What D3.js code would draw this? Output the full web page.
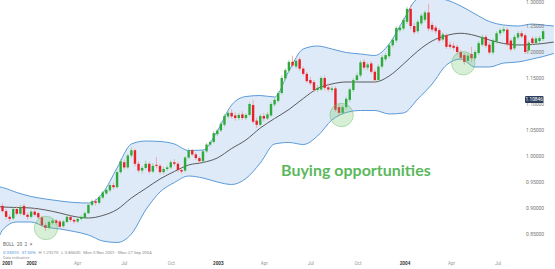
<!DOCTYPE html>
<html><head><meta charset="utf-8">
<script src="https://cdn.jsdelivr.net/npm/d3@7"></script>
<style>body{margin:0;background:#fff}svg{display:block}</style>
</head><body>
<svg id="c" width="555" height="269"></svg>
<script>
// ---- data ----
const startWeek = "2001-11-05", endWeek = "2004-09-27";
const open = [0.904,0.894,0.883,0.880,0.898,0.889,0.904,0.887,0.883,0.893,
0.890,0.882,0.867,0.862,0.871,0.876,0.874,0.865,0.873,0.883,
0.877,0.874,0.879,0.881,0.890,0.906,0.913,0.910,0.920,0.928,
0.934,0.944,0.940,0.969,0.988,0.978,1.001,1.011,0.985,0.972,
0.977,0.985,0.970,0.983,0.981,0.969,0.975,0.978,0.988,0.985,
0.973,0.972,0.997,1.011,1.003,0.996,0.990,1.009,1.022,1.027,
1.042,1.049,1.060,1.076,1.083,1.078,1.073,1.080,1.073,1.079,
1.098,1.068,1.060,1.077,1.072,1.078,1.099,1.106,1.121,1.149,
1.164,1.181,1.172,1.186,1.168,1.158,1.146,1.142,1.127,1.128,
1.150,1.132,1.127,1.130,1.094,1.083,1.094,1.108,1.127,1.146,
1.155,1.181,1.170,1.178,1.162,1.146,1.172,1.186,1.192,1.213,
1.222,1.242,1.245,1.258,1.283,1.250,1.240,1.255,1.262,1.276,
1.252,1.247,1.242,1.224,1.232,1.214,1.212,1.210,1.200,1.194,
1.183,1.196,1.188,1.198,1.214,1.229,1.214,1.199,1.220,1.236,
1.240,1.243,1.222,1.207,1.228,1.236,1.232,1.203,1.226,1.217,
1.221,1.225];
const high = [0.909,0.898,0.887,0.901,0.903,0.906,0.908,0.891,0.897,0.900,
0.893,0.885,0.871,0.876,0.880,0.879,0.877,0.877,0.887,0.886,
0.880,0.882,0.886,0.893,0.908,0.916,0.918,0.924,0.933,0.938,
0.947,0.949,0.972,0.994,0.993,1.004,1.017,1.014,0.990,0.981,
0.991,0.989,0.986,0.998,0.985,0.979,0.982,0.992,0.994,0.989,
0.978,1.000,1.015,1.014,1.007,0.999,1.012,1.025,1.030,1.048,
1.052,1.066,1.081,1.088,1.090,1.084,1.083,1.086,1.082,1.104,
1.108,1.074,1.081,1.083,1.085,1.104,1.113,1.125,1.155,1.169,
1.185,1.193,1.187,1.190,1.172,1.162,1.152,1.146,1.136,1.154,
1.155,1.140,1.134,1.134,1.099,1.098,1.114,1.131,1.150,1.160,
1.184,1.186,1.180,1.182,1.166,1.176,1.194,1.198,1.217,1.228,
1.250,1.252,1.266,1.287,1.290,1.256,1.262,1.274,1.280,1.293,
1.258,1.251,1.246,1.238,1.236,1.220,1.218,1.214,1.204,1.198,
1.197,1.210,1.204,1.221,1.233,1.233,1.219,1.226,1.240,1.246,
1.249,1.247,1.226,1.233,1.240,1.241,1.236,1.222,1.230,1.230,
1.231,1.244];
const low = [0.891,0.878,0.874,0.877,0.886,0.886,0.884,0.878,0.880,0.884,
0.879,0.864,0.856,0.859,0.868,0.867,0.861,0.862,0.871,0.873,
0.870,0.871,0.876,0.879,0.888,0.903,0.905,0.907,0.917,0.925,
0.931,0.936,0.938,0.966,0.974,0.975,0.996,0.980,0.968,0.966,
0.974,0.966,0.967,0.976,0.965,0.965,0.971,0.975,0.981,0.969,
0.966,0.969,0.994,1.000,0.992,0.986,0.987,1.006,1.018,1.024,
1.038,1.046,1.056,1.072,1.072,1.068,1.069,1.069,1.069,1.076,
1.062,1.054,1.057,1.066,1.069,1.075,1.095,1.102,1.118,1.145,
1.160,1.170,1.168,1.164,1.154,1.140,1.136,1.122,1.123,1.125,
1.126,1.124,1.122,1.085,1.076,1.079,1.090,1.104,1.123,1.141,
1.151,1.166,1.165,1.158,1.140,1.142,1.168,1.182,1.188,1.209,
1.218,1.238,1.241,1.254,1.244,1.234,1.236,1.251,1.258,1.240,
1.238,1.235,1.218,1.220,1.206,1.206,1.203,1.195,1.184,1.176,
1.179,1.180,1.184,1.194,1.210,1.208,1.195,1.195,1.216,1.232,
1.236,1.211,1.201,1.203,1.224,1.226,1.196,1.199,1.213,1.213,
1.217,1.221];
const close = [0.894,0.883,0.879,0.898,0.889,0.902,0.887,0.883,0.893,0.887,
0.882,0.867,0.862,0.873,0.876,0.871,0.864,0.874,0.883,0.877,
0.874,0.879,0.883,0.890,0.906,0.913,0.910,0.921,0.930,0.935,
0.944,0.940,0.969,0.990,0.978,1.001,1.011,0.985,0.972,0.977,
0.985,0.970,0.981,0.981,0.969,0.975,0.978,0.988,0.985,0.973,
0.970,0.997,1.011,1.003,0.996,0.990,1.009,1.022,1.027,1.044,
1.049,1.062,1.077,1.083,1.076,1.073,1.079,1.073,1.079,1.100,
1.066,1.060,1.077,1.072,1.080,1.100,1.108,1.121,1.150,1.165,
1.181,1.174,1.183,1.168,1.158,1.144,1.140,1.127,1.131,1.150,
1.131,1.128,1.130,1.089,1.083,1.094,1.110,1.128,1.146,1.155,
1.180,1.170,1.176,1.162,1.146,1.172,1.190,1.194,1.213,1.224,
1.246,1.247,1.262,1.283,1.250,1.238,1.258,1.270,1.276,1.245,
1.243,1.240,1.222,1.234,1.210,1.210,1.208,1.200,1.189,1.181,
1.193,1.188,1.200,1.217,1.229,1.212,1.199,1.222,1.236,1.242,
1.244,1.215,1.205,1.229,1.236,1.230,1.200,1.218,1.217,1.226,
1.227,1.240];

// Bollinger band (20, 2)
const bandDates = ["2001-10-31","2001-11-05","2001-12-03","2001-12-31","2002-01-28","2002-02-25","2002-03-25","2002-04-22","2002-05-20","2002-06-17","2002-07-15","2002-08-12","2002-09-09","2002-10-07","2002-11-04","2002-12-02","2002-12-30","2003-01-27","2003-02-24","2003-03-24","2003-04-21","2003-05-19","2003-06-16","2003-07-14","2003-08-11","2003-09-08","2003-10-06","2003-11-03","2003-12-01","2003-12-29","2004-01-26","2004-02-23","2004-03-22","2004-04-19","2004-05-17","2004-06-14","2004-07-12","2004-08-09","2004-09-06","2004-09-27","2004-10-18"];
const upperBand = [0.9404,0.9394,0.9298,0.9221,0.9173,0.9135,0.9106,0.9096,0.9288,0.9769,1.0231,1.0288,1.0279,1.0231,1.0106,1.0115,1.0481,1.0981,1.1144,1.1163,1.1135,1.1635,1.2058,1.2115,1.2058,1.1990,1.1962,1.1933,1.2154,1.2615,1.3019,1.3038,1.3000,1.2885,1.2731,1.2587,1.2519,1.2500,1.2538,1.2519,1.2500];
const middleBand = [0.9025,0.9019,0.9010,0.9000,0.8962,0.8904,0.8837,0.8808,0.8856,0.8971,0.9192,0.9375,0.9558,0.9702,0.9827,0.9875,0.9962,1.0144,1.0308,1.0538,1.0721,1.0894,1.1106,1.1298,1.1385,1.1423,1.1423,1.1423,1.1538,1.1769,1.2019,1.2212,1.2317,1.2360,1.2317,1.2231,1.2163,1.2135,1.2144,1.2163,1.2192];
const lowerBand = [0.8481,0.8577,0.8731,0.8731,0.8635,0.8596,0.8548,0.8481,0.8365,0.8337,0.8500,0.8962,0.9308,0.9490,0.9615,0.9577,0.9500,0.9452,0.9567,0.9865,1.0231,1.0260,1.0221,1.0385,1.0692,1.0837,1.0875,1.0875,1.0808,1.0827,1.1096,1.1385,1.1750,1.1865,1.1712,1.1712,1.1788,1.1808,1.1865,1.1913,1.1971];

const yTicks = [0.85,0.90,0.95,1.00,1.05,1.10,1.15,1.20,1.25,1.30];
const xTickDates = ["2001-11-15","2002-01-01","2002-04-01","2002-07-01","2002-10-01","2003-01-01","2003-04-01","2003-07-01","2003-10-01","2004-01-01","2004-04-01","2004-07-01"];
const xTickLabels = ["2001","2002","Apr","Jul","Oct","2003","Apr","Jul","Oct","2004","Apr","Jul"];
const lastPrice = 1.10846;
const circleDates = ["2002-01-29","2003-08-30","2004-04-24"];
const circleValues = [0.8615,1.0788,1.1783];
const annotation = "Buying opportunities";
const legendTitle = "BOLL  20  2";
const legendStats = [["0.33010","#4a90d9"],["37.50%","#4a90d9"],["H 1.29270","#8a8a8a"],["L 0.85600","#8a8a8a"],["Mon 5 Nov 2001 - Mon 27 Sep 2004","#8a8a8a"]];
const legendNote = "Data indicative";

// ---- chart ----
const parse = d3.utcParse("%Y-%m-%d");
const weeks = d3.utcMonday.range(parse(startWeek), d3.utcDay.offset(parse(endWeek), 1));
const candles = weeks.map((d, i) => ({date: d, o: open[i], h: high[i], l: low[i], c: close[i]}));
const band = bandDates.map((d, i) => ({date: parse(d), u: upperBand[i], m: middleBand[i], l: lowerBand[i]}));

const svg = d3.select("#c");
const x = d3.scaleUtc().domain([parse(startWeek), parse(endWeek)]).range([2.5, 543.1]);
const y = d3.scaleLinear().domain([0.85, 1.30]).range([234, 0]);

const curve = d3.curveMonotoneX;
svg.append("path").datum(band)
  .attr("d", d3.area().x(d => x(d.date)).y0(d => y(d.l)).y1(d => y(d.u)).curve(curve))
  .attr("fill", "#deeaf7");
svg.append("path").datum(band)
  .attr("d", d3.line().x(d => x(d.date)).y(d => y(d.u)).curve(curve))
  .attr("fill", "none").attr("stroke", "#5b9bd8").attr("stroke-width", 1);
svg.append("path").datum(band)
  .attr("d", d3.line().x(d => x(d.date)).y(d => y(d.l)).curve(curve))
  .attr("fill", "none").attr("stroke", "#5b9bd8").attr("stroke-width", 1);
svg.append("path").datum(band)
  .attr("d", d3.line().x(d => x(d.date)).y(d => y(d.m)).curve(curve))
  .attr("fill", "none").attr("stroke", "#4a4a4a").attr("stroke-width", 0.9);

const bw = 2.4;
const g = svg.append("g");
g.selectAll("line.w").data(candles).join("line")
  .attr("x1", d => x(d.date)).attr("x2", d => x(d.date))
  .attr("y1", d => y(d.h)).attr("y2", d => y(d.l))
  .attr("stroke", d => d.c >= d.o ? "#8fd08f" : "#f29aa0").attr("stroke-width", 0.8);
g.selectAll("rect").data(candles).join("rect")
  .attr("x", d => x(d.date) - bw / 2).attr("width", bw)
  .attr("y", d => y(Math.max(d.o, d.c)))
  .attr("height", d => Math.max(0.8, Math.abs(y(d.o) - y(d.c))))
  .attr("fill", d => d.c >= d.o ? "#2faa3a" : "#e8212b");

svg.selectAll("circle").data(circleDates).join("circle")
  .attr("cx", d => x(parse(d))).attr("cy", (d, i) => y(circleValues[i])).attr("r", 11.7)
  .attr("fill", "rgba(110,195,110,0.28)").attr("stroke", "rgba(100,185,100,0.55)").attr("stroke-width", 0.8);

svg.append("text").attr("x", 281).attr("y", 176)
  .attr("font-family", "Lato, 'Open Sans', sans-serif").attr("font-weight", "bold")
  .attr("font-size", 16).attr("fill", "#5cb85c").text(annotation);

// y axis labels (top one nudged inside the frame)
svg.append("g").selectAll("text").data(yTicks).join("text")
  .attr("x", 526).attr("y", d => Math.max(4.2, y(d) + 1.8))
  .attr("font-family", "Roboto, sans-serif").attr("font-size", 5).attr("fill", "#777")
  .text(d => d.toFixed(5));
// price tag
svg.append("rect").attr("x", 525).attr("y", y(lastPrice) - 3.6).attr("width", 18.5).attr("height", 7)
  .attr("rx", 1).attr("fill", "#2c3e5c");
svg.append("text").attr("x", 534.2).attr("y", y(lastPrice) + 1.7).attr("text-anchor", "middle")
  .attr("font-family", "Roboto, sans-serif").attr("font-size", 4.8).attr("fill", "#fff").text(lastPrice.toFixed(5));

// x axis labels
svg.append("g").selectAll("text").data(xTickDates).join("text")
  .attr("x", (d, i) => x(parse(d))).attr("y", 265).attr("text-anchor", "middle")
  .attr("font-family", "Roboto, sans-serif").attr("font-size", 4.6)
  .attr("font-weight", (d, i) => /^\d/.test(xTickLabels[i]) ? "bold" : "normal")
  .attr("fill", (d, i) => /^\d/.test(xTickLabels[i]) ? "#333" : "#999")
  .text((d, i) => xTickLabels[i]);

// legend
svg.append("text").attr("x", 3).attr("y", 245.5).attr("font-family", "Roboto, sans-serif")
  .attr("font-size", 4.8).attr("fill", "#666").attr("xml:space", "preserve").text(legendTitle + "  \u00d7");
const lt = svg.append("text").attr("x", 3).attr("y", 253.5).attr("font-family", "Roboto, sans-serif").attr("font-size", 4.3);
legendStats.forEach((s, i) => lt.append("tspan").attr("dx", i ? 3 : 0).attr("fill", s[1]).text(s[0]));
svg.append("text").attr("x", 3).attr("y", 259).attr("font-family", "Roboto, sans-serif")
  .attr("font-size", 4).attr("fill", "#999").text(legendNote);
</script>
</body></html>
